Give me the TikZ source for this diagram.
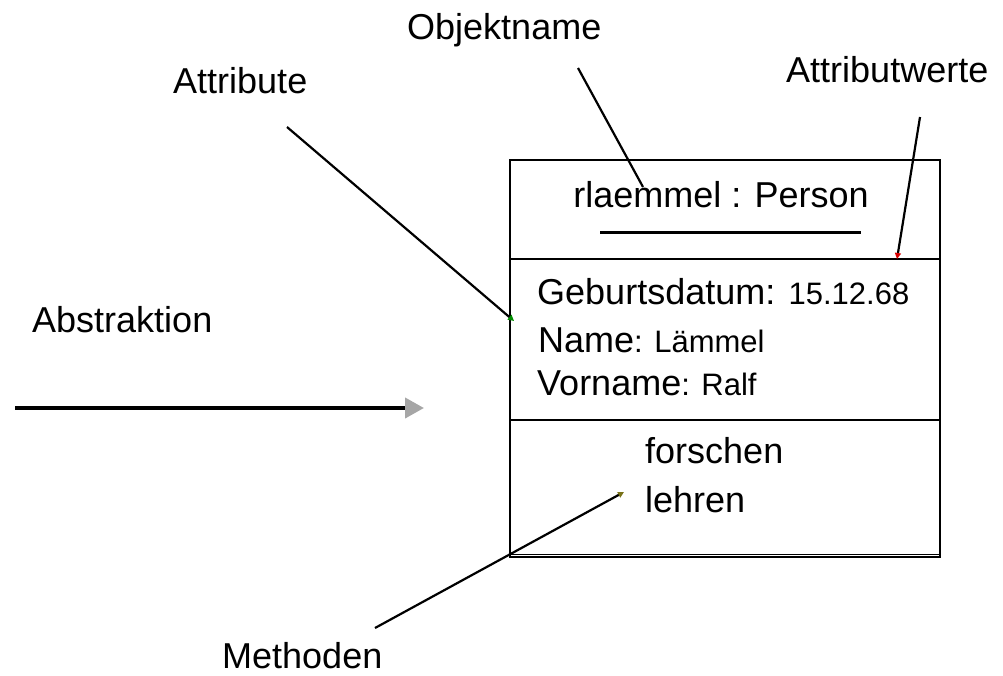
\documentclass[tikz,border=0pt]{standalone}
\usepackage{fontspec}
\setmainfont{Liberation Sans}
\usetikzlibrary{arrows.meta}
\begin{document}
\begin{tikzpicture}[x=1pt,y=-1pt,
  big/.style={font=\fontsize{36}{40}\selectfont, inner sep=0pt, anchor=base west},
  lbl/.style={big},
  pointer/.style={line width=2.2pt, black},
  box/.style={line width=1.3pt, black}]
\useasboundingbox (0,0) rectangle (1003,675);
% object box
\draw[box] (510,160) rectangle (940,557);
\draw[box] (510,259) -- (940,259);
\draw[box] (510,420) -- (940,420);
\draw[line width=1pt] (510,554) -- (940,554);
% title
\node[big, anchor=base] (title) at (721,207) {rlaemmel : Person};
\draw[line width=3pt] (600,232) -- (861,232);
% attributes
\node[big] (geb) at (537,304) {Geburtsdatum: {\fontsize{31}{34}\selectfont 15.12.68}};
\node[big] (name) at (538,352) {Name{\fontsize{31}{34}\selectfont : Lämmel}};
\node[big] (vorname) at (537,395) {Vorname{\fontsize{31}{34}\selectfont : Ralf}};
% methods
\node[big] (forschen) at (645,463) {forschen};
\node[big] (lehren) at (645,512) {lehren};
% labels
\node[lbl] (objektname) at (407,39) {Objektname};
\node[lbl] (attribute) at (173,93) {Attribute};
\node[lbl] (attributwerte) at (786,82) {Attributwerte};
\node[lbl] (abstraktion) at (32,332) {Abstraktion};
\node[lbl] (methoden) at (222,668) {Methoden};
% pointer coordinates
\coordinate (o1) at (578,68);
\coordinate (o2) at (643,187);
\coordinate (a1) at (287,127);
\coordinate (a2) at (514,321);
\coordinate (w1) at (920,117);
\coordinate (w2) at (897,259);
\coordinate (m1) at (375,628);
\coordinate (m2) at (624,492);
\coordinate (s1) at (15,408);
\coordinate (s2) at (424,408);
\draw[pointer] (o1) -- (o2);
\draw[pointer, -{Triangle[length=6pt,width=6pt,color=green!55!black]}] (a1) -- (a2);
\draw[pointer, -{Triangle[length=6pt,width=6pt,color=red!85!black]}] (w1) -- (w2);
\draw[pointer, -{Triangle[length=6pt,width=6pt,color=olive!80!black]}] (m1) -- (m2);
\draw[line width=4pt, -{Triangle[length=19pt,width=20pt,color=black!35]}] (s1) -- (s2);
\end{tikzpicture}
\end{document}
